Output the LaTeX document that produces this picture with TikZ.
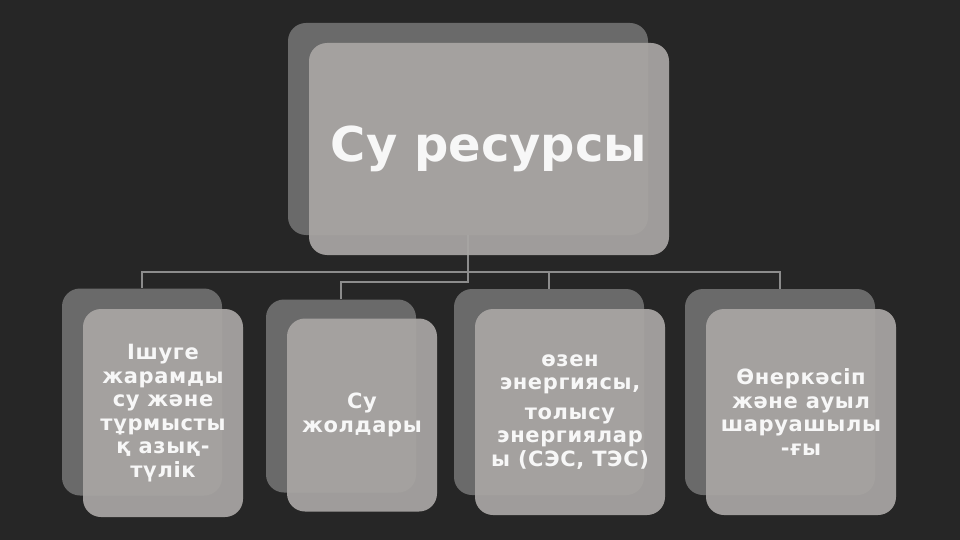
\documentclass[tikz,border=0pt]{standalone}
\usepackage{fontspec}
\setmainfont{DejaVu Sans}
\newfontfamily\cardfont[LetterSpace=3]{DejaVu Sans}
\definecolor{slide}{HTML}{262626}
\definecolor{backcard}{HTML}{6A6A6A}
\definecolor{frontcard}{HTML}{A9A6A4}
\definecolor{linkgray}{HTML}{8C8C8C}
\tikzset{
  back/.style={fill=backcard, rounded corners=18pt, inner sep=0pt},
  front/.style={fill=frontcard, fill opacity=0.93, text opacity=1, text=white!97!black,
    rounded corners=18pt, inner sep=0pt, align=center,
    font=\cardfont\bfseries\fontsize{21}{23.5}\selectfont},
  link/.style={draw=linkgray, line width=2.2pt}
}
\begin{document}
\begin{tikzpicture}[x=1pt,y=-1pt]
\fill[slide] (0,0) rectangle (960,540);
\useasboundingbox (0,0) rectangle (960,540);
% back cards
\node[back, minimum width=360pt, minimum height=212pt] (top-back) at (468,129) {};
\foreach \name/\x/\y/\w/\h in
{b1/142/392/160/207, b2/341/396/150/193, b3/549/392/190/206, b4/780/392/190/206}
\node[back, minimum width=\w pt, minimum height=\h pt] (\name-back) at (\x,\y) {};
% connectors
\coordinate (bus) at (468,272);
\draw[link] (top-back.south) -- (bus);
\foreach \k in {1,3,4}
\draw[link] (bus) -| (b\k-back.north);
\draw[link] (bus) -- ++(0,10) -| (b2-back.north);
% front cards
\node[front, minimum width=360pt, minimum height=212pt, font=\bfseries\fontsize{48}{58}\selectfont] (top) at (489,149) {Су ресурсы};
\foreach \name/\x/\y/\w/\h/\txt in
{
b1/163/413/160/208/{Ішуге\\жарамды\\су және\\тұрмысты\\қ азық-\\түлік},
b2/362/415/150/193/{Су\\жолдары},
b3/570/412/190/206/{өзен\\энергиясы,\\[6pt]толысу\\энергиялар\\ы (СЭС, ТЭС)},
b4/801/412/190/206/{Өнеркәсіп\\және ауыл\\шаруашылы\\-ғы}}
\node[front, minimum width=\w pt, minimum height=\h pt] (\name) at (\x,\y) {\txt};
\end{tikzpicture}
\end{document}
